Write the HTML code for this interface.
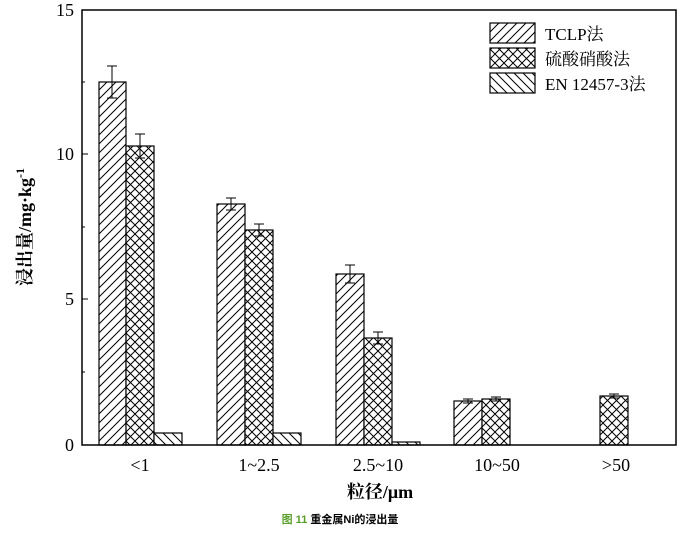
<!DOCTYPE html><html><head><style>body{margin:0;background:#fff}</style></head><body>
<svg width="690" height="528" xmlns="http://www.w3.org/2000/svg" font-family="Liberation Serif, Noto Serif CJK SC, serif">
<defs>
<pattern id="d" width="9" height="9" patternUnits="userSpaceOnUse"><rect width="9" height="9" fill="#fff"/><path d="M-2,11 L11,-2 M-2,2 L2,-2 M7,11 L11,7" stroke="#000" stroke-width="1"/></pattern>
<pattern id="b" width="9" height="9" patternUnits="userSpaceOnUse"><rect width="9" height="9" fill="#fff"/><path d="M-2,-2 L11,11 M-2,7 L2,11 M7,-2 L11,2" stroke="#000" stroke-width="1"/></pattern>
<pattern id="x" width="9" height="9" patternUnits="userSpaceOnUse"><rect width="9" height="9" fill="#fff"/><path d="M-2,11 L11,-2 M-2,2 L2,-2 M7,11 L11,7 M-2,-2 L11,11 M-2,7 L2,11 M7,-2 L11,2" stroke="#000" stroke-width="1"/></pattern>
</defs>
<g stroke="#000" stroke-width="1.2">
<rect x="99" y="82" width="27" height="363" fill="url(#d)"/>
<rect x="126" y="146" width="28" height="299" fill="url(#x)"/>
<rect x="154" y="433" width="28" height="12" fill="url(#b)"/>
<rect x="217" y="204" width="28" height="241" fill="url(#d)"/>
<rect x="245" y="230" width="28" height="215" fill="url(#x)"/>
<rect x="273" y="433" width="28" height="12" fill="url(#b)"/>
<rect x="336" y="274" width="28" height="171" fill="url(#d)"/>
<rect x="364" y="338" width="28" height="107" fill="url(#x)"/>
<rect x="392" y="442" width="28" height="3" fill="url(#b)"/>
<rect x="454" y="401" width="28" height="44" fill="url(#d)"/>
<rect x="482" y="399" width="28" height="46" fill="url(#x)"/>
<rect x="600" y="396" width="28" height="49" fill="url(#x)"/>
</g>
<g stroke="#000" stroke-width="1" fill="none">
<path d="M112,66V98M107,66H117M107,98H117"/>
<path d="M140,134V158M135,134H145M135,158H145"/>
<path d="M231,198V210M226,198H236M226,210H236"/>
<path d="M259,224V236M254,224H264M254,236H264"/>
<path d="M350,265V283M345,265H355M345,283H355"/>
<path d="M378,332V344M373,332H383M373,344H383"/>
<path d="M468,399V403M463,399H473M463,403H473"/>
<path d="M496,397V401M491,397H501M491,401H501"/>
<path d="M614,394V398M609,394H619M609,398H619"/>
</g>
<rect x="82" y="10" width="594" height="435" fill="none" stroke="#000" stroke-width="1.5"/>
<g stroke="#000" stroke-width="1"><path d="M82,299H88M82,154H88M82,10H88M82,372H85M82,227H85M82,82H85"/></g>
<g font-size="18" text-anchor="end"><text x="74" y="451">0</text><text x="74" y="305">5</text><text x="74" y="160">10</text><text x="74" y="16">15</text></g>
<g font-size="18" text-anchor="middle"><text x="140" y="471">&lt;1</text><text x="259" y="471">1~2.5</text><text x="378" y="471">2.5~10</text><text x="497" y="471">10~50</text><text x="616" y="471">&gt;50</text></g>
<text x="380" y="498" font-size="18" font-weight="bold" text-anchor="middle">粒径/μm</text>
<text transform="translate(31,227) rotate(-90)" font-size="18" font-weight="bold" text-anchor="middle">浸出量/mg·kg<tspan font-size="12" dy="-7">-1</tspan></text>
<g stroke="#000" stroke-width="1.2"><rect x="490" y="23" width="45" height="20" fill="url(#d)"/><rect x="490" y="48" width="45" height="20" fill="url(#x)"/><rect x="490" y="73" width="45" height="20" fill="url(#b)"/></g>
<g font-size="17"><text x="545" y="40">TCLP法</text><text x="545" y="65">硫酸硝酸法</text><text x="545" y="90">EN 12457-3法</text></g>
<text x="340" y="523" font-size="11" font-weight="bold" text-anchor="middle" font-family="Liberation Sans, Noto Sans CJK SC, sans-serif"><tspan fill="#5a9e2a">图 11 </tspan>重金属Ni的浸出量</text>
</svg></body></html>
